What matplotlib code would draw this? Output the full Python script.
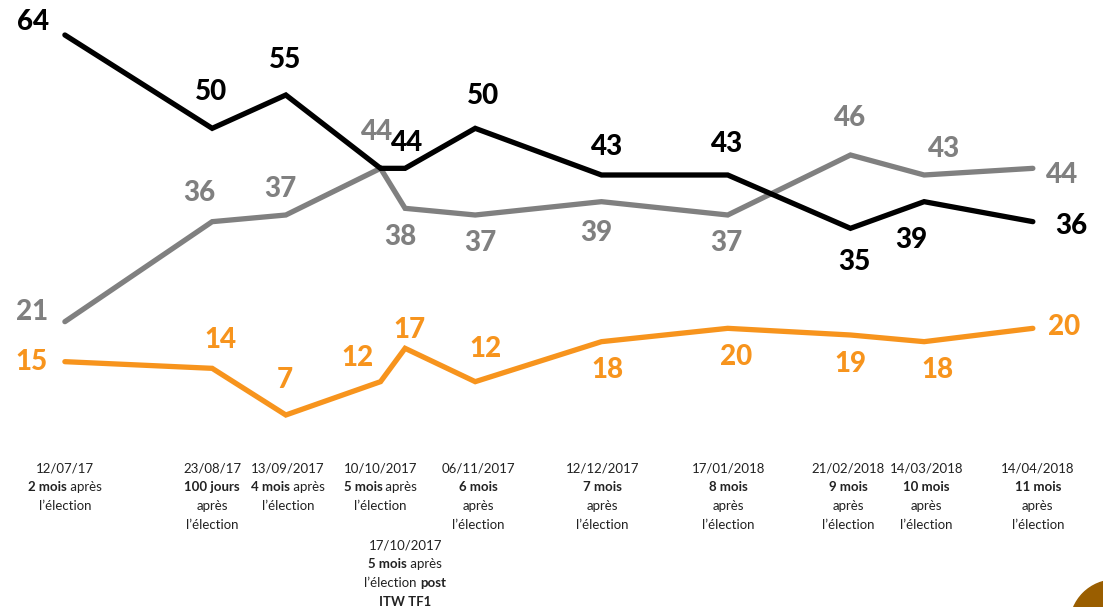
import matplotlib
matplotlib.use('Agg')
import matplotlib.pyplot as plt
from matplotlib.offsetbox import TextArea, HPacker, VPacker, AnnotationBbox
from matplotlib.patches import Ellipse
from datetime import date

plt.rcParams['font.family'] = ['Lato', 'DejaVu Sans']

# dates of the polls
dates = [date(2017, 7, 12), date(2017, 8, 23), date(2017, 9, 13), date(2017, 10, 10),
         date(2017, 10, 17), date(2017, 11, 6), date(2017, 12, 12), date(2018, 1, 17),
         date(2018, 2, 21), date(2018, 3, 14), date(2018, 4, 14)]
days = [(d - dates[0]).days for d in dates]

black_vals = [64, 50, 55, 44, 44, 50, 43, 43, 35, 39, 36]
gray_vals = [21, 36, 37, 44, 38, 37, 39, 37, 46, 43, 44]
orange_vals = [15, 14, 7, 12, 17, 12, 18, 20, 19, 18, 20]

# bottom captions: list of lines, each line a list of (text, bold)
captions = [
    [[('12/07/17', False)], [('2 mois', True), (' après', False)], [('l\u2019élection', False)]],
    [[('23/08/17', False)], [('100 jours', True)], [('après', False)], [('l\u2019élection', False)]],
    [[('13/09/2017', False)], [('4 mois', True), (' après', False)], [('l\u2019élection', False)]],
    [[('10/10/2017', False)], [('5 mois', True), (' après', False)], [('l\u2019élection', False)]],
    [[('17/10/2017', False)], [('5 mois', True), (' après', False)],
     [('l\u2019élection ', False), ('post', True)], [('ITW TF1', True)]],
    [[('06/11/2017', False)], [('6 mois', True)], [('après', False)], [('l\u2019élection', False)]],
    [[('12/12/2017', False)], [('7 mois', True)], [('après', False)], [('l\u2019élection', False)]],
    [[('17/01/2018', False)], [('8 mois', True)], [('après', False)], [('l\u2019élection', False)]],
    [[('21/02/2018', False)], [('9 mois', True)], [('après', False)], [('l\u2019élection', False)]],
    [[('14/03/2018', False)], [('10 mois', True)], [('après', False)], [('l\u2019élection', False)]],
    [[('14/04/2018', False)], [('11 mois', True)], [('après', False)], [('l\u2019élection', False)]],
]
caption_dx = [0, 0, 2, 0, 0, 3, 1, 1, -2, 2, 5]
caption_top = [0.238, 0.238, 0.238, 0.238, 0.112, 0.238, 0.238, 0.238, 0.238, 0.238, 0.238]

# label offsets in pixels (dx, dy up)
black_off = [(-32, 13), (-1, 36), (-1, 35), None, (2, 25), (8, 32), (6, 28), (-1, 31),
             (4, -34), (-13, -38), (38, -4)]
gray_off = [(-33, 10), (-13, 29), (-5, 26), (-3, 36), (-5, -29), (5, -28), (-5, -31),
            (-1, -28), (0, 37), (20, 26), (29, -7)]
orange_off = [(-33, 0), (8, 28), (-1, 35), (-23, 24), (4, 18), (10, 33), (6, -28),
              (8, -29), (0, -29), (13, -28), (31, 1)]

c_black = '#000000'
c_gray = '#808080'
c_orange = '#F7941D'

fig = plt.figure(figsize=(11.03, 6.07), dpi=100)
ax = fig.add_axes([0, 0, 1, 1])
ax.set_xlim(-18.5, 296.0)
ax.set_ylim(-21.8, 69.25)
ax.axis('off')

for vals, col, offs in [(orange_vals, c_orange, orange_off),
                        (gray_vals, c_gray, gray_off),
                        (black_vals, c_black, black_off)]:
    ax.plot(days, vals, color=col, lw=3.8, solid_joinstyle='miter', solid_capstyle='round')
    for x, v, o in zip(days, vals, offs):
        if o is None:
            continue
        ax.annotate(str(v), (x, v), xytext=o, textcoords='offset pixels',
                    ha='center', va='center', fontsize=20, fontweight='black', color=col)

for x, cap, dx, top in zip(days, captions, caption_dx, caption_top):
    rows = []
    for line in cap:
        parts = [TextArea(t, textprops=dict(fontsize=9.5, color='#222222',
                                            fontweight='bold' if b else 'normal'))
                 for t, b in line]
        rows.append(HPacker(children=parts, align='baseline', pad=0, sep=0))
    box = VPacker(children=rows, align='center', pad=0, sep=5)
    ab = AnnotationBbox(box, (x, top), xycoords=('data', 'axes fraction'),
                        xybox=(dx, 0), boxcoords='offset pixels',
                        box_alignment=(0.5, 1), frameon=False)
    ax.add_artist(ab)

# logo corner piece
fig.patches.append(Ellipse((1115 / 1103, 1 - 625 / 607), 90 / 1103, 90 / 607,
                           transform=fig.transFigure, color='#9A5E00'))

fig.savefig('out.png', dpi=100)
